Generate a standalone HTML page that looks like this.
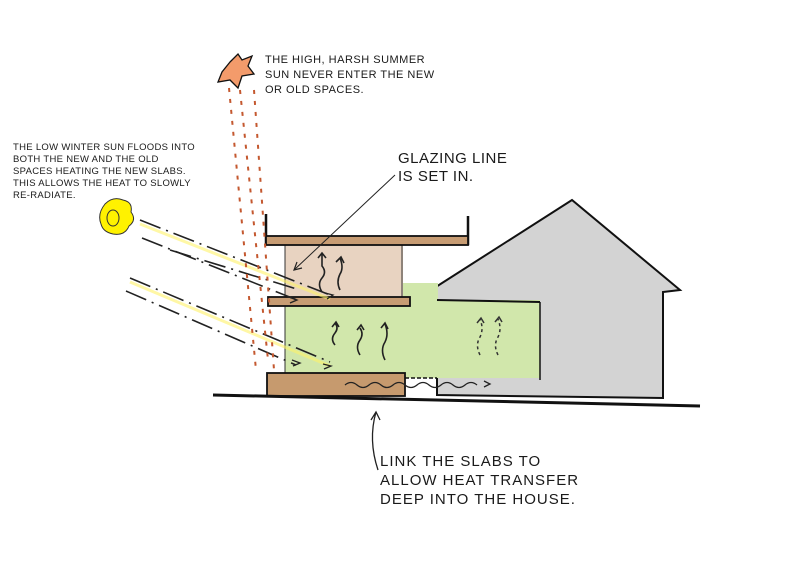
<!DOCTYPE html>
<html><head><style>
html,body{margin:0;padding:0;background:#fff;width:800px;height:570px;overflow:hidden}
svg{display:block}
text{font-family:"Liberation Sans",sans-serif;fill:#1a1a1a}
</style></head><body>
<svg width="800" height="570" viewBox="0 0 800 570" xmlns="http://www.w3.org/2000/svg">
<polygon points="428,292 572,200 680,290 663,292 663,398 437,395 437,300" fill="#d3d3d3" stroke="#111" stroke-width="2"/>
<rect x="285" y="300" width="255" height="78" fill="#d1e7ab"/>
<rect x="403" y="283" width="35" height="20" fill="#d1e7ab"/>
<line x1="437" y1="300" x2="540" y2="302" stroke="#111" stroke-width="2"/>
<line x1="540" y1="302" x2="540" y2="380" stroke="#111" stroke-width="1.5"/>
<rect x="285" y="244" width="118" height="56" fill="#e8d3c1"/>
<line x1="285" y1="244" x2="285" y2="380" stroke="#333" stroke-width="1"/>
<line x1="402" y1="244" x2="402" y2="300" stroke="#333" stroke-width="1"/>
<path d="M266,214 L266,244 L468,244 L468,216" fill="none" stroke="#111" stroke-width="2.5"/>
<rect x="266" y="236" width="202" height="9" fill="#c79c73" stroke="#111" stroke-width="1.8"/>
<rect x="268" y="297" width="142" height="9" fill="#c79c73" stroke="#111" stroke-width="1.8"/>
<rect x="267" y="373" width="138" height="23" fill="#c69a6e" stroke="#111" stroke-width="1.8"/>
<line x1="405" y1="378" x2="437" y2="378" stroke="#111" stroke-width="1.5" stroke-dasharray="4,2"/>
<path d="M213,395 L700,406" stroke="#111" stroke-width="3" fill="none"/>
<path d="M345,385 q6,-5 12,0 t12,0 t12,0 t12,0 t12,0 t12,0 t12,0 t12,0 t12,0 t12,0 t12,0" fill="none" stroke="#222" stroke-width="1.3"/>
<path d="M484,381 l6,3 l-6,3" fill="none" stroke="#222" stroke-width="1.3"/>
<g fill="none" stroke="#222" stroke-width="1.6">
<path d="M322,292 q-5,-8 0,-14 q5,-6 0,-12 l0,-12 M318,258 l4,-5 l4,5"/>
<path d="M340,290 q-4,-8 0,-16 q4,-6 0,-16 M336,262 l5,-5 l3,6"/>
<path d="M335,345 q-5,-6 0,-12 q4,-5 0,-10 M332,327 l4,-5 l3,5"/>
<path d="M360,355 q-5,-8 0,-15 q4,-6 0,-12 M357,330 l4,-5 l3,5"/>
<path d="M385,360 q-5,-10 0,-18 q4,-8 0,-18 M381,328 l4,-5 l3,6"/>
</g>
<g fill="none" stroke="#333" stroke-width="1.5" stroke-dasharray="3,3">
<path d="M480,355 q-5,-10 0,-18 q4,-8 0,-18"/>
<path d="M498,355 q-5,-10 0,-18 q4,-8 0,-18"/>
</g>
<path d="M477,323 l4,-5 l3,5 M495,322 l4,-5 l3,5" fill="none" stroke="#333" stroke-width="1.5"/>
<g stroke="#222" stroke-width="1.6" fill="none" stroke-dasharray="22,6,2,6">
<line x1="140" y1="220" x2="330" y2="295"/>
<line x1="142" y1="238" x2="297" y2="300"/>
<line x1="130" y1="278" x2="330" y2="362"/>
<line x1="126" y1="291" x2="296" y2="365"/>
<line x1="170" y1="250" x2="300" y2="290"/>
</g>
<g stroke="#fff36a" stroke-width="3" fill="none" opacity="0.6">
<line x1="140" y1="224" x2="330" y2="299"/>
<line x1="130" y1="282" x2="330" y2="366"/>
</g>
<g fill="none" stroke="#222" stroke-width="1.3">
<path d="M289,297 l8,3 l-7,3 M325,293 l8,2 l-6,4 M323,364 l8,2 l-7,3 M292,360 l8,3 l-7,3"/>
</g>
<line x1="395" y1="175" x2="294" y2="270" stroke="#222" stroke-width="1"/>
<path d="M302,268 l-8,2 l3,-8" fill="none" stroke="#222" stroke-width="1.2"/>
<g stroke="#c4582f" stroke-width="2" stroke-dasharray="4,7" fill="none">
<line x1="229" y1="88" x2="256" y2="370"/>
<line x1="240" y1="90" x2="268" y2="360"/>
<line x1="254" y1="90" x2="274" y2="370"/>
</g>
<path d="M230,62 l8,-8 l4,6 l10,-4 l-4,10 l6,8 l-12,2 l-4,12 l-8,-8 l-12,2 l4,-10 z" fill="#f39b6b" stroke="#111" stroke-width="1.3"/>
<path d="M105,204 q8,-8 18,-4 q10,2 8,12 q6,8 -2,14 q-4,10 -16,8 q-10,-2 -12,-10 q-4,-10 4,-20 z" fill="#fff200" stroke="#333" stroke-width="1"/>
<ellipse cx="113" cy="218" rx="6" ry="8" fill="none" stroke="#333" stroke-width="1"/>
<path d="M378,470 q-10,-30 -2,-58 M371,420 l5,-8 l4,8" fill="none" stroke="#222" stroke-width="1.3"/>
<g font-size="11" letter-spacing="0.5">
<text x="265" y="63">THE HIGH, HARSH SUMMER</text>
<text x="265" y="78">SUN NEVER ENTER THE NEW</text>
<text x="265" y="93">OR OLD SPACES.</text>
</g>
<g font-size="9.5" letter-spacing="0.3">
<text x="13" y="150">THE LOW WINTER SUN FLOODS INTO</text>
<text x="13" y="162">BOTH THE NEW AND THE OLD</text>
<text x="13" y="174">SPACES HEATING THE NEW SLABS.</text>
<text x="13" y="186">THIS ALLOWS THE HEAT TO SLOWLY</text>
<text x="13" y="198">RE-RADIATE.</text>
</g>
<g font-size="15" letter-spacing="0.5">
<text x="398" y="163">GLAZING LINE</text>
<text x="398" y="181">IS SET IN.</text>
</g>
<g font-size="15" letter-spacing="1">
<text x="380" y="466">LINK THE SLABS TO</text>
<text x="380" y="485">ALLOW HEAT TRANSFER</text>
<text x="380" y="504">DEEP INTO THE HOUSE.</text>
</g>
</svg>
</body></html>
